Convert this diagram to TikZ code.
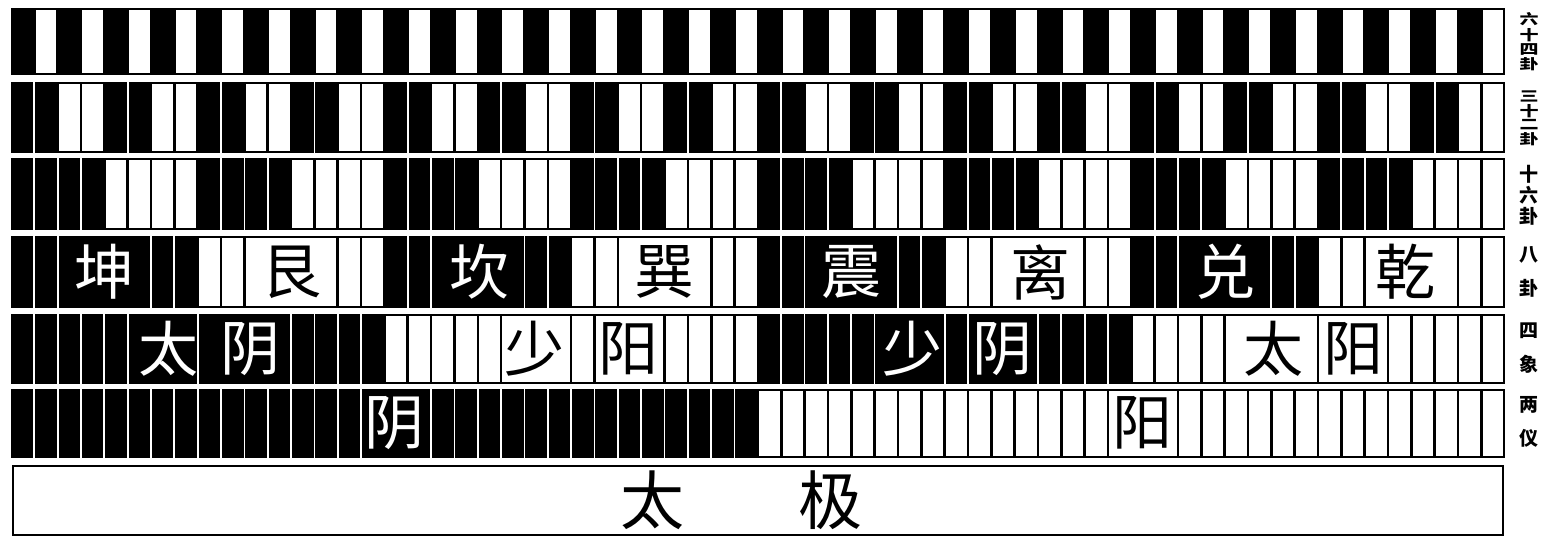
\documentclass[tikz,border=0pt]{standalone}
\usepackage{fontspec}
\usepackage{graphicx}
\newfontfamily\cjk{Noto Sans CJK SC}
\def\xo{11}
\def\cw{23.34}
\newcommand\hexrow[3]{%
  \fill (\xo,#1) rectangle ({\xo+64*\cw},#2);
  \foreach \k in {0,...,63}{%
    \pgfmathtruncatemacro\isw{mod(floor(\k/#3),2)}%
    \pgfmathtruncatemacro\isend{mod(\k+1,#3)==0}%
    \ifnum\isw=1
      \fill[white] ({\xo+\k*\cw+1.3},{#1+2.2}) rectangle ({\xo+(\k+1)*\cw-1.3},{#2-2.2});
    \else
      \ifnum\isend=0
        \fill[white] ({\xo+(\k+1)*\cw-0.9},#1) rectangle ({\xo+(\k+1)*\cw+0.9},#2);
      \fi
    \fi
  }%
}
\newcommand\bbox[4]{\fill ({\xo+#3*\cw+0.9},#1) rectangle ({\xo+#4*\cw-0.9},#2);}
\newcommand\wbox[4]{\fill ({\xo+#3*\cw},#1) rectangle ({\xo+#4*\cw},#2);
  \fill[white] ({\xo+#3*\cw+1.3},{#1+2.2}) rectangle ({\xo+#4*\cw-1.3},{#2-2.2});}
\newcommand\vstack[2]{\scalebox{1}[#1]{\shortstack{#2}}}
\begin{document}
\begin{tikzpicture}[x=1pt,y=-1pt,
  lw/.style={font=\cjk\fontsize{60}{60}\selectfont, text=white, inner sep=0pt},
  lk/.style={font=\cjk\fontsize{60}{60}\selectfont, text=black, inner sep=0pt},
  side/.style={font=\cjk\bfseries\fontsize{19}{19}\selectfont, align=center, inner sep=0pt}]
\useasboundingbox[fill=white] (0,0) rectangle (1542,537);
% rows of bars
\hexrow{8}{75}{1}
\hexrow{82}{153}{2}
\hexrow{158}{230}{4}
\hexrow{236}{308}{8}
\hexrow{314}{384}{16}
\hexrow{389}{458}{32}
% eight trigrams
\bbox{236}{308}{2}{6}   \node[lw] (kun)  at (104,272) {坤};
\wbox{236}{308}{10}{14} \node[lk] (gen)  at (291,272) {艮};
\bbox{236}{308}{18}{22} \node[lw] (kan)  at (479,272) {坎};
\wbox{236}{308}{26}{30} \node[lk] (xun)  at (664,272) {巽};
\bbox{236}{308}{34}{38} \node[lw] (zhen) at (851,272) {震};
\wbox{236}{308}{42}{46} \node[lk] (li)   at (1040,272) {离};
\bbox{236}{308}{50}{54} \node[lw] (dui)  at (1225,272) {兑};
\wbox{236}{308}{58}{62} \node[lk] (qian) at (1405,272) {乾};
% four images
\bbox{314}{384}{5}{8}   \node[lw] (ty1) at (168,349) {太};
\bbox{314}{384}{8}{12}  \node[lw] (ty2) at (250,349) {阴};
\wbox{314}{384}{21}{24} \node[lk] (sy1) at (534,349) {少};
\wbox{314}{384}{25}{28} \node[lk] (sy2) at (628,349) {阳};
\bbox{314}{384}{37}{40} \node[lw] (sn1) at (912,349) {少};
\bbox{314}{384}{41}{44} \node[lw] (sn2) at (1002,349) {阴};
\wbox{314}{384}{52}{56} \node[lk] (tt1) at (1273,349) {太};
\wbox{314}{384}{56}{59} \node[lk] (tt2) at (1353,349) {阳};
% two modes
\bbox{389}{458}{15}{18} \node[lw] (yin)  at (394,423) {阴};
\wbox{389}{458}{47}{50} \node[lk] (yang) at (1142,423) {阳};
% taiji
\node[draw, line width=2pt, minimum width=1490pt, minimum height=69pt, inner sep=0pt] (taiji) at (757.5,500) {};
\node[lk, font=\cjk\fontsize{64}{64}\selectfont] (tai) at (652,500) {太};
\node[lk, font=\cjk\fontsize{64}{64}\selectfont] (ji) at (830,500) {极};
% side labels
\node[side] (s64) at (1529,42) {\vstack{0.74}{六\\十\\四\\卦}};
\node[side] (s32) at (1529,118) {\vstack{0.74}{三\\十\\二\\卦}};
\node[side] (s16) at (1529,195) {\vstack{1}{十\\六\\卦}};
\node[side] (s8)  at (1529,272) {八\\[15pt]卦};
\node[side] (s4)  at (1529,348) {四\\[15pt]象};
\node[side] (s2)  at (1529,422) {两\\[15pt]仪};
\end{tikzpicture}
\end{document}
